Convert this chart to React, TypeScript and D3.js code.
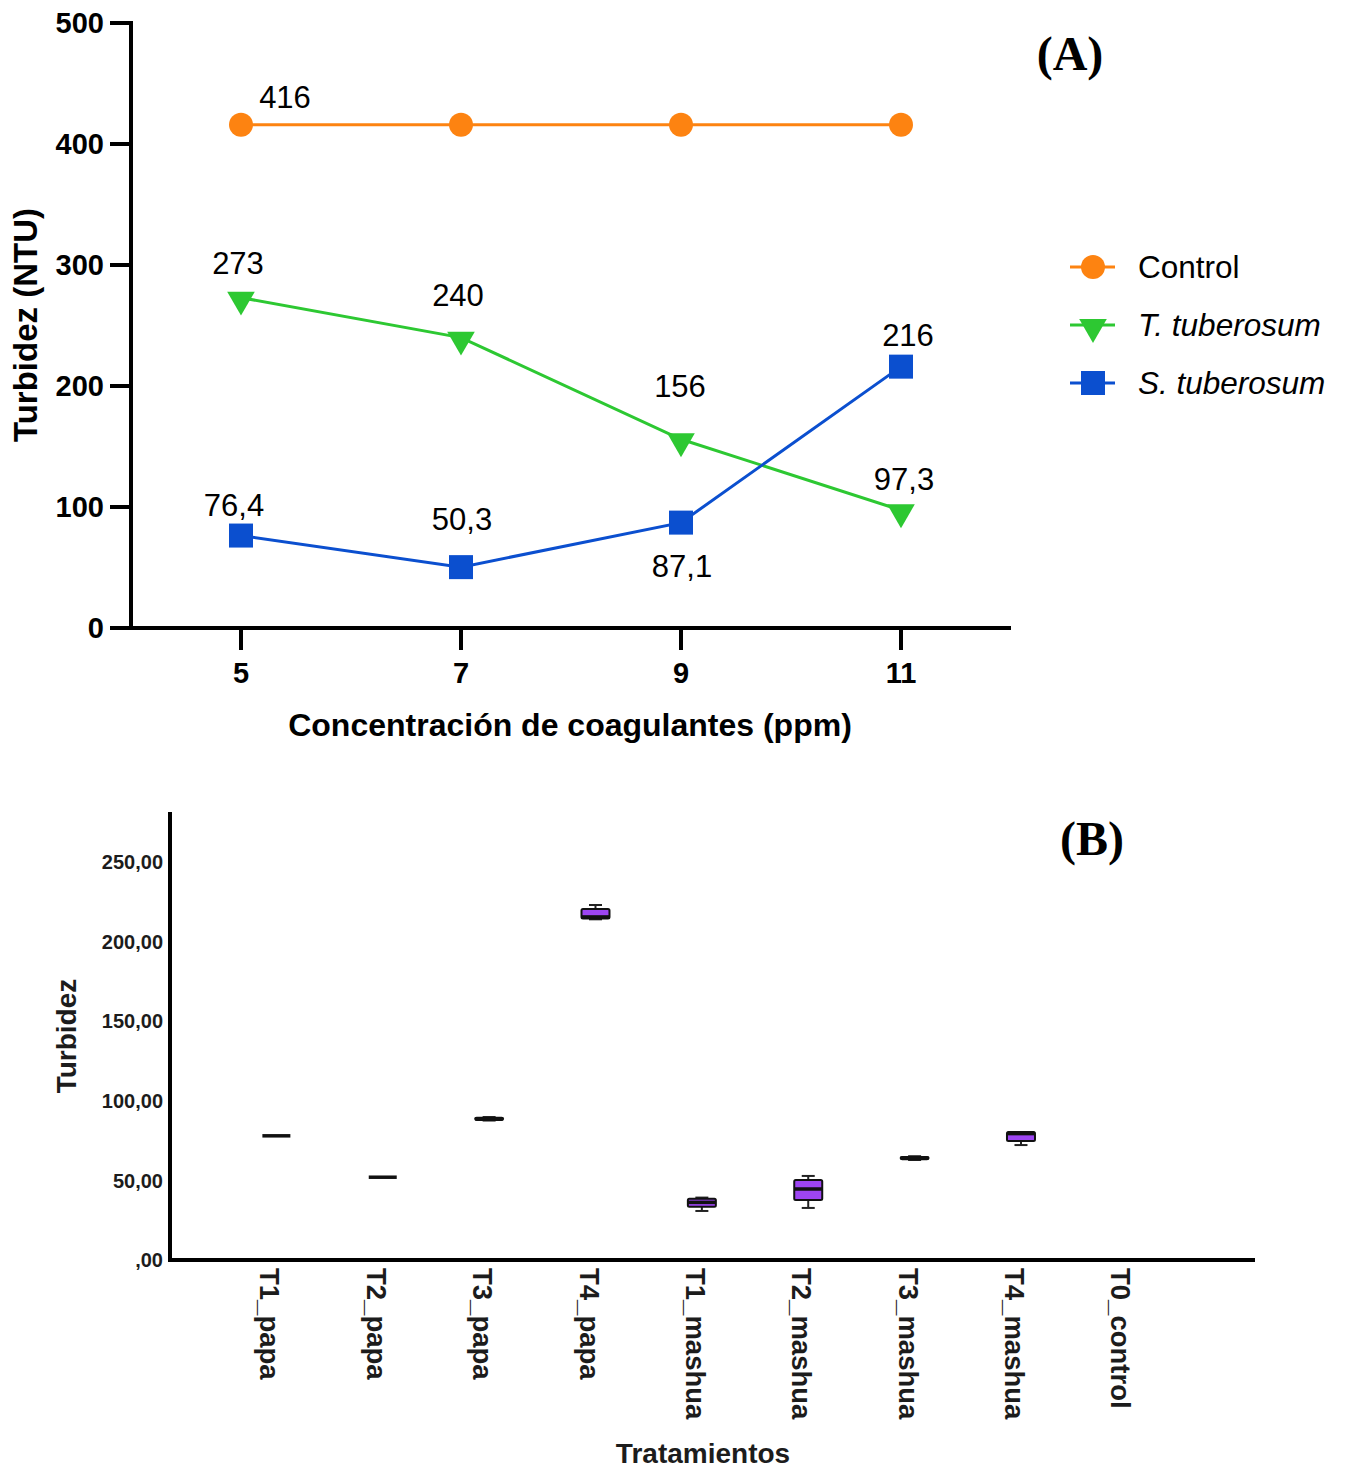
import React from "react";
import * as d3 from "d3";

// ---------- Panel A data ----------
const concentrations = [5, 7, 9, 11];
const controlValues = [416, 416, 416, 416];
const tTuberosumValues = [273, 240, 156, 97.3];
const sTuberosumValues = [76.4, 50.3, 87.1, 216];
const yTicksA = [0, 100, 200, 300, 400, 500];
const seriesNames = ["Control", "T. tuberosum", "S. tuberosum"];

// label placement (dx, dy relative to the point) per series
const controlLabelOffsets = [[44, -17], null, null, null];
const tLabelOffsets = [[-3, -24], [-3, -32], [-1, -42], [3, -20]];
const sLabelOffsets = [[-7, -20], [1, -37], [1, 54], [7, -21]];

// ---------- Panel B data ----------
const treatments = [
  "T1_papa", "T2_papa", "T3_papa", "T4_papa",
  "T1_mashua", "T2_mashua", "T3_mashua", "T4_mashua", "T0_control",
];
const boxMin = [78, 52, 87.6, 214, 30.8, 32.7, 62.8, 72.2, null];
const boxQ1 = [78, 52, 88, 214.5, 33.4, 37.7, 63.3, 74.8, null];
const boxMedian = [78, 52, 88.6, 215.5, 36.2, 44.6, 64, 79.4, null];
const boxQ3 = [78, 52, 89.4, 220.5, 38.4, 50.3, 64.7, 80.4, null];
const boxMax = [78, 52, 89.8, 223, 39.2, 52.8, 65.2, 80.4, null];
const yTicksB = [0, 50, 100, 150, 200, 250];

const ORANGE = "#FD8311";
const GREEN = "#2DC832";
const BLUE = "#0B4FCF";
const PURPLE = "#9D45F2";
const SANS = "'Liberation Sans', Arial, Helvetica, sans-serif";
const SERIF = "'Liberation Serif', 'Times New Roman', serif";

const fmt = (v: number) => String(v).replace(".", ",");

function Marker({ kind, x, y, color }: { kind: string; x: number; y: number; color: string }) {
  if (kind === "circle") return <circle cx={x} cy={y} r={12} fill={color} />;
  if (kind === "square") return <rect x={x - 12} y={y - 12} width={24} height={24} fill={color} />;
  const tri = d3.symbol().type(d3.symbolTriangle).size(330)();
  return <path d={tri || ""} transform={`translate(${x},${y + 2}) rotate(180)`} fill={color} />;
}

function PanelA() {
  const x = d3.scaleLinear().domain([4, 12]).range([131, 1011]);
  const y = d3.scaleLinear().domain([0, 500]).range([628, 23]);
  const line = d3.line<number>().x((_, i) => x(concentrations[i])).y((d) => y(d));
  const series = [
    { name: seriesNames[0], values: controlValues, color: ORANGE, kind: "circle", offsets: controlLabelOffsets, italic: false },
    { name: seriesNames[1], values: tTuberosumValues, color: GREEN, kind: "triangle", offsets: tLabelOffsets, italic: true },
    { name: seriesNames[2], values: sTuberosumValues, color: BLUE, kind: "square", offsets: sLabelOffsets, italic: true },
  ];
  return (
    <g fontFamily={SANS}>
      {/* axes */}
      <line x1={131} x2={131} y1={y(500) - 2} y2={y(0) + 2} stroke="#000" strokeWidth={4} />
      <line x1={129} x2={x(12)} y1={y(0)} y2={y(0)} stroke="#000" strokeWidth={4} />
      {yTicksA.map((t) => (
        <g key={t}>
          <line x1={110} x2={131} y1={y(t)} y2={y(t)} stroke="#000" strokeWidth={4} />
          <text x={104} y={y(t)} dy="0.36em" textAnchor="end" fontWeight="bold" fontSize={29}>{t}</text>
        </g>
      ))}
      {concentrations.map((c) => (
        <g key={c}>
          <line x1={x(c)} x2={x(c)} y1={y(0)} y2={y(0) + 22} stroke="#000" strokeWidth={4} />
          <text x={x(c)} y={673} dy="0.36em" textAnchor="middle" fontWeight="bold" fontSize={29}>{c}</text>
        </g>
      ))}
      <text x={570} y={724} dy="0.36em" textAnchor="middle" fontWeight="bold" fontSize={32}>
        Concentración de coagulantes (ppm)
      </text>
      <text transform={`translate(25,325) rotate(-90)`} dy="0.36em" textAnchor="middle" fontWeight="bold" fontSize={33}>
        Turbidez (NTU)
      </text>
      {/* series */}
      {series.map((s) => (
        <g key={s.name}>
          <path d={line(s.values) || ""} fill="none" stroke={s.color} strokeWidth={3} />
          {s.values.map((v, i) => (
            <Marker key={i} kind={s.kind} x={x(concentrations[i])} y={y(v)} color={s.color} />
          ))}
          {s.values.map((v, i) => {
            const o = s.offsets[i];
            if (!o) return null;
            return (
              <text key={"l" + i} x={x(concentrations[i]) + o[0]} y={y(v) + o[1]} textAnchor="middle" fontSize={31}>
                {fmt(v)}
              </text>
            );
          })}
        </g>
      ))}
      {/* legend */}
      {series.map((s, i) => {
        const ly = 267 + i * 58;
        return (
          <g key={"lg" + s.name}>
            <line x1={1070} x2={1115} y1={ly} y2={ly} stroke={s.color} strokeWidth={3} />
            <Marker kind={s.kind} x={1093} y={ly} color={s.color} />
            <text x={1138} y={ly + 11} fontSize={31.5} fontStyle={s.italic ? "italic" : "normal"}>{s.name}</text>
          </g>
        );
      })}
      <text x={1070} y={70} textAnchor="middle" fontFamily={SERIF} fontWeight="bold" fontSize={48}>(A)</text>
    </g>
  );
}

function PanelB() {
  const x = d3.scaleLinear().domain([0, treatments.length + 1.2]).range([170, 1255]);
  const y = d3.scaleLinear().domain([0, 250]).range([1260, 862]);
  const bw = 28;
  const cap = 13;
  return (
    <g fontFamily={SANS} fill="#1c1c1c">
      <line x1={170} x2={170} y1={812} y2={1262} stroke="#000" strokeWidth={4} />
      <line x1={168} x2={1255} y1={1260} y2={1260} stroke="#000" strokeWidth={4} />
      {yTicksB.map((t) => (
        <text key={t} x={163} y={y(t)} dy="0.36em" textAnchor="end" fontWeight="bold" fontSize={20}>
          {t === 0 ? ",00" : d3.format(".2f")(t).replace(".", ",")}
        </text>
      ))}
      <text transform={`translate(66,1036) rotate(-90)`} dy="0.36em" textAnchor="middle" fontWeight="bold" fontSize={28}>Turbidez</text>
      <text x={703} y={1453} dy="0.36em" textAnchor="middle" fontWeight="bold" fontSize={28}>Tratamientos</text>
      {treatments.map((t, i) => (
        <text key={t} transform={`translate(${x(i + 1) - 6},1268) rotate(90)`} dy="0.36em" fontWeight="bold" fontSize={27.5}>{t}</text>
      ))}
      {treatments.map((t, i) => {
        const mn = boxMin[i], q1 = boxQ1[i], md = boxMedian[i], q3 = boxQ3[i], mx = boxMax[i];
        if (mn == null || q1 == null || md == null || q3 == null || mx == null) return null;
        const cx = x(i + 1);
        const h = y(q1) - y(q3);
        return (
          <g key={"b" + t}>
            {mx > q3 && (
              <g stroke="#222" strokeWidth={2}>
                <line x1={cx} x2={cx} y1={y(mx)} y2={y(q3)} />
                <line x1={cx - cap / 2} x2={cx + cap / 2} y1={y(mx)} y2={y(mx)} />
              </g>
            )}
            {mn < q1 && (
              <g stroke="#222" strokeWidth={2}>
                <line x1={cx} x2={cx} y1={y(q1)} y2={y(mn)} />
                <line x1={cx - cap / 2} x2={cx + cap / 2} y1={y(mn)} y2={y(mn)} />
              </g>
            )}
            {h > 0.5 ? (
              <rect x={cx - bw / 2} y={y(q3)} width={bw} height={h} fill={PURPLE} stroke="#111" strokeWidth={2} rx={1.5} />
            ) : null}
            <line x1={cx - bw / 2} x2={cx + bw / 2} y1={y(md)} y2={y(md)} stroke="#111" strokeWidth={3.5} />
          </g>
        );
      })}
      <text x={1092} y={855} textAnchor="middle" fontFamily={SERIF} fontWeight="bold" fontSize={48} fill="#000">(B)</text>
    </g>
  );
}

export default function App() {
  return (
    <svg width={1348} height={1470} style={{ position: "absolute", left: 0, top: 0, background: "#fff" }}>
      <rect width={1348} height={1470} fill="#fff" />
      <PanelA />
      <PanelB />
    </svg>
  );
}
